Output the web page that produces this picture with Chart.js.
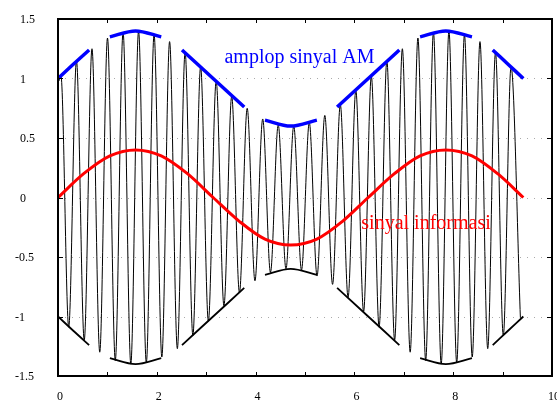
<!DOCTYPE html>
<html>
<head>
<meta charset="utf-8">
<script src="https://cdn.jsdelivr.net/npm/chart.js@4.4.1/dist/chart.umd.min.js"></script>
<style>
  html, body { margin: 0; padding: 0; background: #fff; }
  #wrap { width: 557px; height: 404px; }
</style>
</head>
<body>
<div id="wrap"><canvas id="chart" width="557" height="404"></canvas></div>
<script>
// sinyal AM (puncak dan lembah pembawa)
const carrierX = [0.02, 0.060, 0.217, 0.374, 0.531, 0.688, 0.845, 1.002, 1.160, 1.317, 1.474,
  1.631, 1.788, 1.945, 2.102, 2.259, 2.416, 2.573, 2.730, 2.887, 3.044,
  3.202, 3.359, 3.516, 3.673, 3.830, 3.987, 4.144, 4.301, 4.458, 4.615,
  4.772, 4.929, 5.087, 5.244, 5.401, 5.558, 5.715, 5.872, 6.029, 6.186,
  6.343, 6.500, 6.657, 6.814, 6.971, 7.129, 7.286, 7.443, 7.600, 7.757,
  7.914, 8.071, 8.228, 8.385, 8.542, 8.699, 8.856, 9.014, 9.171, 9.360];
const carrierY = [0.98, 1.02, -1.09, 1.15, -1.20, 1.25, -1.30, 1.34, -1.37, 1.39, -1.40,
  1.40, -1.39, 1.37, -1.34, 1.31, -1.27, 1.22, -1.16, 1.10, -1.04,
  0.98, -0.91, 0.85, -0.80, 0.75, -0.70, 0.66, -0.63, 0.61, -0.60,
  0.60, -0.61, 0.63, -0.66, 0.69, -0.73, 0.78, -0.84, 0.90, -0.96,
  1.02, -1.09, 1.15, -1.20, 1.25, -1.30, 1.34, -1.37, 1.39, -1.40,
  1.40, -1.39, 1.37, -1.34, 1.31, -1.27, 1.22, -1.16, 1.10, -1.01];

// sinyal informasi
const infoX = [0, 0.52, 1.05, 1.57, 2.09, 2.62, 3.14, 3.67, 4.19, 4.71, 5.24, 5.76, 6.28, 6.81, 7.33, 7.85, 8.38, 8.90, 9.42];
const infoY = [0, 0.20, 0.35, 0.40, 0.35, 0.20, 0, -0.20, -0.35, -0.40, -0.35, -0.20, 0, 0.20, 0.35, 0.40, 0.35, 0.20, 0];

// amplop (potongan-potongan, null = celah)
const envX = [0, 0.31, 0.63, 0.84, 1.05, 1.57, 2.09, 2.30, 2.51, 3.14, 3.77, 3.98, 4.19, 4.71, 5.24, 5.45,
  5.65, 6.28, 6.91, 7.12, 7.33, 7.85, 8.38, 8.59, 8.80, 9.11, 9.42];
const envTop = [1.00, 1.12, 1.24, null, 1.35, 1.40, 1.35, null, 1.24, 1.00, 0.76, null, 0.65, 0.60, 0.65, null,
  0.76, 1.00, 1.24, null, 1.35, 1.40, 1.35, null, 1.24, 1.12, 1.00];
const envBottom = [-1.00, -1.12, -1.24, null, -1.35, -1.40, -1.35, null, -1.24, -1.00, -0.76, null, -0.65, -0.60, -0.65, null,
  -0.76, -1.00, -1.24, null, -1.35, -1.40, -1.35, null, -1.24, -1.12, -1.00];

// tick
const xTicks = [0, 1, 2, 3, 4, 5, 6, 7, 8, 9, 10];
const xLabels = ['0', '', '2', '', '4', '', '6', '', '8', '', '10'];
const yTicks = [-1.5, -1, -0.5, 0, 0.5, 1, 1.5];
const yLabels = ['-1.5', '-1', '-0.5', '0', '0.5', '1', '1.5'];

const toPoints = (xs, ys) => xs.map((x, i) => ({ x: x, y: ys[i] }));

const serif = '"Liberation Serif", "DejaVu Serif", serif';

const framePlugin = {
  id: 'frame',
  beforeDatasetsDraw(chart) {
    const { ctx, chartArea: a, scales } = chart;
    ctx.save();
    ctx.strokeStyle = '#aaa';
    ctx.lineWidth = 1;
    ctx.setLineDash([1, 6]);
    yTicks.forEach(v => {
      if (Math.abs(v) === 1.5) return;
      const py = Math.round(scales.y.getPixelForValue(v)) + 0.5;
      ctx.beginPath();
      ctx.moveTo(a.left, py);
      ctx.lineTo(a.right, py);
      ctx.stroke();
    });
    ctx.restore();
  },
  afterDatasetsDraw(chart) {
    const { ctx, chartArea: a, scales } = chart;
    ctx.save();
    // ticks
    ctx.strokeStyle = '#000';
    ctx.lineWidth = 1;
    xTicks.forEach(v => {
      const px = Math.round(scales.x.getPixelForValue(v)) + 0.5;
      ctx.beginPath();
      ctx.moveTo(px, a.bottom); ctx.lineTo(px, a.bottom - 4);
      ctx.moveTo(px, a.top); ctx.lineTo(px, a.top + 4);
      ctx.stroke();
    });
    yTicks.forEach(v => {
      const py = Math.round(scales.y.getPixelForValue(v)) + 0.5;
      ctx.beginPath();
      ctx.moveTo(a.left, py); ctx.lineTo(a.left + 5, py);
      ctx.moveTo(a.right, py); ctx.lineTo(a.right - 5, py);
      ctx.stroke();
    });
    // frame
    ctx.lineWidth = 2;
    ctx.strokeRect(a.left, a.top, a.right - a.left, a.bottom - a.top);

    // tick labels
    ctx.fillStyle = '#000';
    ctx.font = '12px ' + serif;
    ctx.textBaseline = 'middle';
    ctx.textAlign = 'center';
    xTicks.forEach((v, i) => {
      if (!xLabels[i]) return;
      ctx.fillText(xLabels[i], scales.x.getPixelForValue(v) + 2, 397);
    });
    ctx.textAlign = 'left';
    const minusW = ctx.measureText('-').width;
    yTicks.forEach((v, i) => {
      const lbl = yLabels[i];
      const left = lbl[0] === '-' ? 20 - minusW - 1 : 20;
      ctx.fillText(lbl, left, scales.y.getPixelForValue(v) + 1);
    });

    // keterangan
    ctx.font = '20px ' + serif;
    ctx.textBaseline = 'alphabetic';
    ctx.fillStyle = '#0000ff';
    ctx.fillText('amplop sinyal AM', scales.x.getPixelForValue(3.37), scales.y.getPixelForValue(1.13));
    ctx.fillStyle = '#ff0000';
    ctx.fillText('sinyal informasi', scales.x.getPixelForValue(6.14), scales.y.getPixelForValue(-0.267));
    ctx.restore();
  }
};

new Chart(document.getElementById('chart'), {
  type: 'line',
  data: {
    datasets: [
      {
        data: toPoints(envX, envBottom),
        borderColor: '#000',
        borderWidth: 1.8,
        cubicInterpolationMode: 'monotone',
        pointRadius: 0,
        spanGaps: false
      },
      {
        data: toPoints(envX, envTop),
        borderColor: '#0000ff',
        borderWidth: 3.5,
        cubicInterpolationMode: 'monotone',
        pointRadius: 0,
        spanGaps: false
      },
      {
        data: toPoints(infoX, infoY),
        borderColor: '#ff0000',
        borderWidth: 3,
        cubicInterpolationMode: 'monotone',
        pointRadius: 0
      },
      {
        data: toPoints(carrierX, carrierY),
        borderColor: '#000',
        borderWidth: 1,
        cubicInterpolationMode: 'monotone',
        pointRadius: 0
      }
    ]
  },
  options: {
    responsive: false,
    animation: false,
    devicePixelRatio: 1,
    layout: { padding: { left: 58, right: 5, top: 19, bottom: 28 } },
    plugins: { legend: { display: false }, tooltip: { enabled: false } },
    scales: {
      x: { type: 'linear', min: 0, max: 10, display: false },
      y: { type: 'linear', min: -1.5, max: 1.5, display: false }
    }
  },
  plugins: [framePlugin]
});
</script>
</body>
</html>
